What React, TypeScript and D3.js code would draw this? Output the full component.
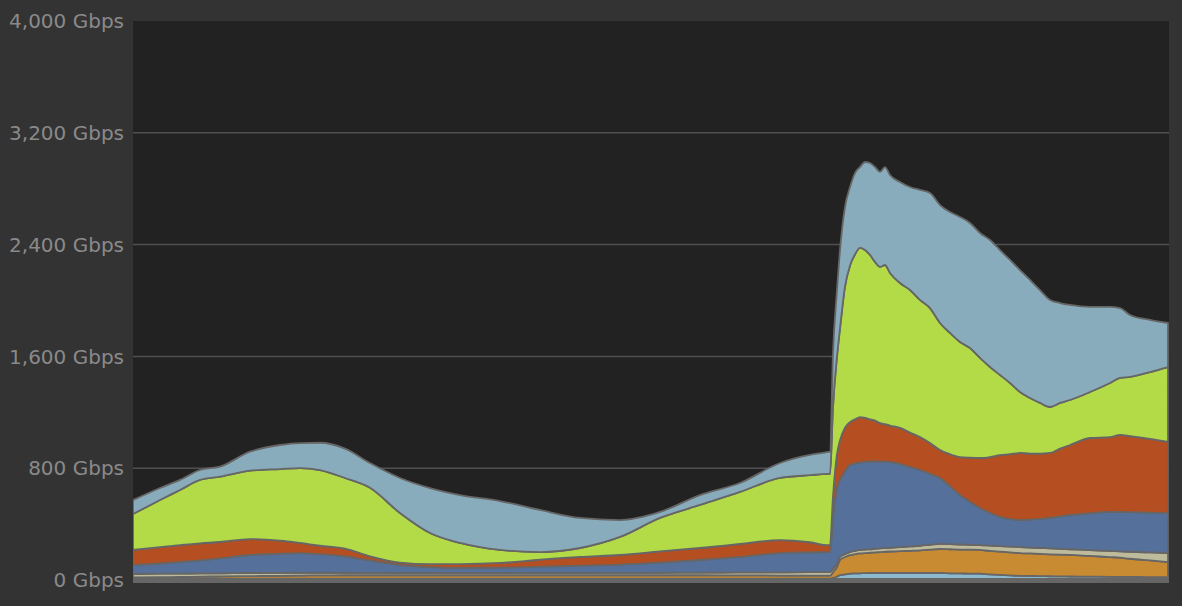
import React from "react";
import * as d3 from "d3";

// x positions (minutes from start of window)
const minutes = [0,27,47,67,87,117,147,167,187,212,237,267,297,327,367,407,447,487,527,567,607,647,677,695,697,
  700,704,707,712,717,722,727,732,737,742,747,752,757,767,777,787,797,807,817,827,837,847,857,867,877,887,897,907,917,927,937,957,977,987,997,1017,1035];

const gray = [7,7,7,7,7,7,7,7,7,7,7,7,7,7,7,7,7,7,7,7,7,7,7,7,7,
  7,7,7,7,7,7,7,7,7,7,7,7,7,7,7,7,7,7,7,7,7,7,7,7,7,7,7,7,7,7,7,7,7,7,7,7,7];
const smallBlue = [2,2,2,2,2,2,2,2,2,2,2,2,2,2,2,2,2,2,2,2,2,2,2,2,2,
  8,18,28,33,38,40,41,42,43,43,43,43,43,43,43,43,43,43,41,40,39,38,33,29,26,23,22,21,20,19,18,17,16,15,15,14,14];
const orange = [9,11,13,15,17,19,21,23,24,25,25,25,25,25,25,25,25,25,25,25,24,23,22,22,22,
  40,70,108,125,133,138,142,144,145,147,150,152,154,156,159,162,167,172,172,171,171,170,168,167,165,163,161,159,157,156,155,148,141,138,130,119,108];
const beige = [25,25,24,23,22,22,21,20,19,18,17,16,16,16,16,16,16,17,18,19,21,23,25,26,26,
  25,25,22,20,22,23,25,25,25,26,26,26,26,29,31,33,35,36,36,36,35,35,38,39,41,43,42,42,42,41,40,42,44,45,50,57,64];
const blue = [64,73,83,93,107,129,137,141,133,118,89,57,42,36,38,45,52,59,73,90,111,138,142,143,143,
  370,540,551,595,623,627,627,627,628,625,622,618,615,595,569,542,508,472,414,354,308,265,234,209,198,193,200,209,218,232,245,264,279,282,283,285,286];
const rust = [108,117,121,122,117,114,94,72,60,55,30,18,22,28,34,50,63,69,80,86,93,93,72,50,50,
  150,240,284,310,307,315,324,315,302,292,275,269,260,258,246,236,220,200,230,272,315,358,400,443,463,480,473,467,465,485,501,538,536,551,545,528,509];
const lime = [257,337,394,454,467,489,512,536,542,505,490,354,222,151,93,55,64,129,239,308,372,444,480,509,509,
  638,700,800,1010,1120,1180,1210,1201,1176,1136,1117,1139,1092,1037,1020,981,966,909,868,823,785,716,644,573,510,436,397,362,329,327,322,329,387,408,423,478,536];
const lightBlue = [100,86,72,71,72,136,172,179,195,210,177,251,322,343,350,301,215,121,43,71,64,107,145,157,160,
  386,475,561,569,562,582,579,630,658,679,680,701,701,723,737,787,823,844,865,895,895,894,909,894,880,873,845,808,766,715,680,609,544,500,443,373,315];

const yTicks = [0, 800, 1600, 2400, 3200, 4000];

const seriesKeys = ["gray","smallBlue","orange","beige","blue","rust","lime","lightBlue"];
const seriesColors = ["#6b6b6b","#8bbad0","#c98b31","#bebb9c","#56709c","#b54f21","#b3db47","#88acbb"];

export default function App() {
  const W = 1182, H = 606;
  const left = 133, right = 1168, top = 21, bottom = 580;
  const x = d3.scaleLinear().domain([0, 1035]).range([left, right]);
  const y = d3.scaleLinear().domain([0, 4000]).range([bottom, top]);
  const arrays: Record<string, number[]> = { gray, smallBlue, orange, beige, blue, rust, lime, lightBlue };
  const rows = minutes.map((m, i) => {
    const r: any = { m };
    seriesKeys.forEach(k => (r[k] = arrays[k][i]));
    return r;
  });
  const stacked = d3.stack<any>().keys(seriesKeys)(rows);
  const area = d3.area<any>()
    .x(d => x(d.data.m))
    .y0(d => y(d[0]))
    .y1(d => y(d[1]))
    .curve(d3.curveMonotoneX);
  const fmt = d3.format(",");
  return (
    <svg width={W} height={H} style={{ position: "absolute", left: 0, top: 0, display: "block" }}>
      <rect x={0} y={0} width={W} height={H} fill="#333333" />
      <defs>
        <clipPath id="plotclip">
          <rect x={left} y={top} width={right - left + 1} height={bottom - top + 4} />
        </clipPath>
      </defs>
      <rect x={left} y={top} width={right - left + 1} height={bottom - top + 3} fill="#222222" />
      {yTicks.filter(t => t > 0 && t < 4000).map(t => (
        <line key={t} x1={left} x2={right + 1} y1={y(t)} y2={y(t)} stroke="#505050" strokeWidth={1.5} />
      ))}
      <g clipPath="url(#plotclip)">
        {stacked.map((s, i) => (
          <path key={s.key} d={area(s) || ""} fill={seriesColors[i]} stroke="#666666" strokeWidth={1.8} strokeLinejoin="round" />
        ))}
        <rect x={left} y={bottom} width={right - left + 1} height={3} fill="#666666" />
      </g>
      {yTicks.map(t => (
        <text key={t} x={124} y={y(t)} dy="0.36em" textAnchor="end" fill="#8a8a8a"
          style={{ fontFamily: "'DejaVu Sans', sans-serif", fontSize: 20 }}>
          {fmt(t)} Gbps
        </text>
      ))}
    </svg>
  );
}
